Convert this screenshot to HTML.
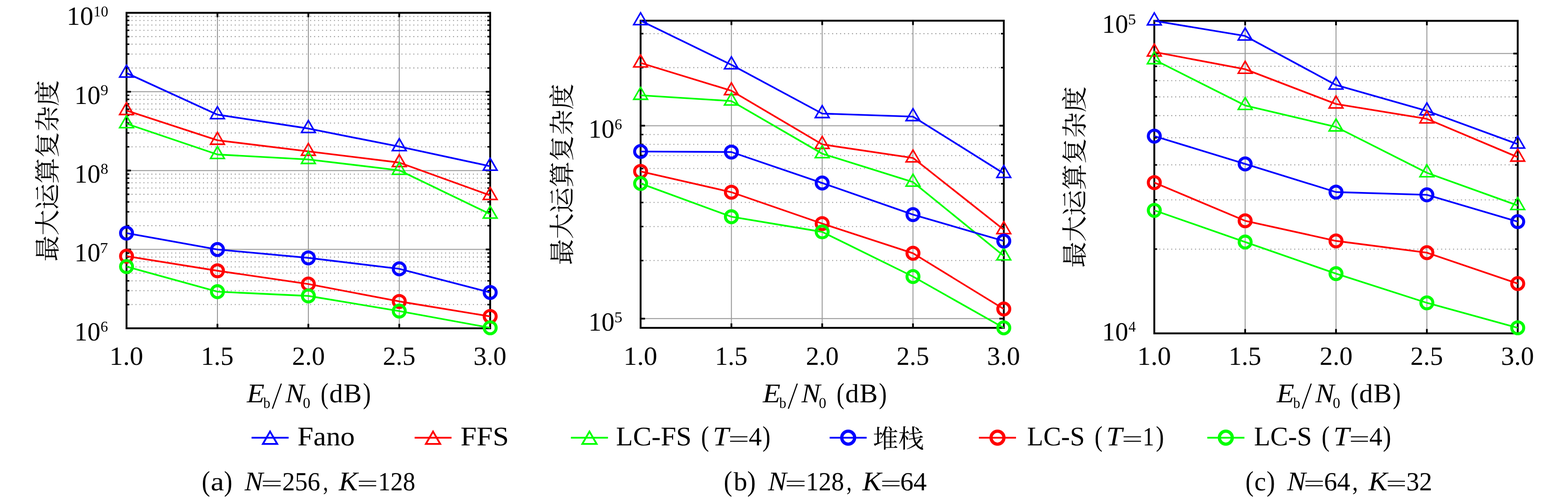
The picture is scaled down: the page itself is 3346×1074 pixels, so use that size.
<!DOCTYPE html>
<html lang="zh"><head><meta charset="utf-8"><title>Maximum computational complexity vs Eb/N0</title>
<style>html,body{margin:0;padding:0;background:#fff}svg{display:block}text{font-family:"Liberation Serif",serif;fill:#000;text-rendering:geometricPrecision}.i{font-style:italic}.cjk{font-family:"Liberation Serif","Noto Serif CJK SC",serif}</style></head><body>
<svg width="3346" height="1074" viewBox="0 0 3346 1074" role="img">
<rect width="3346" height="1074" fill="#fff"/>
<g id="chart1">
<path d="M272.23 650.31H1046M272.23 620.65H1046M272.23 599.61H1046M272.23 583.29H1046M272.23 569.96H1046M272.23 558.69H1046M272.23 548.92H1046M272.23 540.31H1046M272.23 481.91H1046M272.23 452.25H1046M272.23 431.21H1046M272.23 414.89H1046M272.23 401.56H1046M272.23 390.29H1046M272.23 380.52H1046M272.23 371.91H1046M272.23 313.51H1046M272.23 283.85H1046M272.23 262.81H1046M272.23 246.49H1046M272.23 233.16H1046M272.23 221.89H1046M272.23 212.12H1046M272.23 203.51H1046M272.23 145.11H1046M272.23 115.45H1046M272.23 94.41H1046M272.23 78.09H1046M272.23 64.76H1046M272.23 53.49H1046M272.23 43.72H1046M272.23 35.11H1046" fill="none" stroke="#969696" stroke-width="2.1" stroke-dasharray="2.1 6.37"/>
<path d="M464 27.4V701M658 27.4V701M852 27.4V701M270 195.8H1046M270 364.2H1046M270 532.6H1046" fill="none" stroke="#999999" stroke-width="2.0"/>
<path d="M270 650.31h6M1046 650.31h-6M270 620.65h6M1046 620.65h-6M270 599.61h6M1046 599.61h-6M270 583.29h6M1046 583.29h-6M270 569.96h6M1046 569.96h-6M270 558.69h6M1046 558.69h-6M270 548.92h6M1046 548.92h-6M270 540.31h6M1046 540.31h-6M270 481.91h6M1046 481.91h-6M270 452.25h6M1046 452.25h-6M270 431.21h6M1046 431.21h-6M270 414.89h6M1046 414.89h-6M270 401.56h6M1046 401.56h-6M270 390.29h6M1046 390.29h-6M270 380.52h6M1046 380.52h-6M270 371.91h6M1046 371.91h-6M270 313.51h6M1046 313.51h-6M270 283.85h6M1046 283.85h-6M270 262.81h6M1046 262.81h-6M270 246.49h6M1046 246.49h-6M270 233.16h6M1046 233.16h-6M270 221.89h6M1046 221.89h-6M270 212.12h6M1046 212.12h-6M270 203.51h6M1046 203.51h-6M270 145.11h6M1046 145.11h-6M270 115.45h6M1046 115.45h-6M270 94.41h6M1046 94.41h-6M270 78.09h6M1046 78.09h-6M270 64.76h6M1046 64.76h-6M270 53.49h6M1046 53.49h-6M270 43.72h6M1046 43.72h-6M270 35.11h6M1046 35.11h-6" fill="none" stroke="#000" stroke-width="3.2"/>
<path d="M270 195.8h9.4M1046 195.8h-9.4M270 364.2h9.4M1046 364.2h-9.4M270 532.6h9.4M1046 532.6h-9.4M464 27.4v9.4M464 701v-9.4M658 27.4v9.4M658 701v-9.4M852 27.4v9.4M852 701v-9.4" fill="none" stroke="#000" stroke-width="3.8"/>
<rect x="270" y="27.4" width="776" height="673.6" fill="none" stroke="#000" stroke-width="4.0"/>
<g stroke="#0000ff" fill="none"><polyline points="270,156 464,244.8 658,274.4 852,313.1 1046,354.9" stroke-width="3.6" stroke-linejoin="round"/>
<path d="M270 139L284.72 164.5H255.28ZM464 227.8L478.72 253.3H449.28ZM658 257.4L672.72 282.9H643.28ZM852 296.1L866.72 321.6H837.28ZM1046 337.9L1060.72 363.4H1031.28Z" stroke-width="3.3" stroke-linejoin="miter"/></g>
<g stroke="#ff0000" fill="none"><polyline points="270,236 464,299.5 658,323.2 852,347.1 1046,417.3" stroke-width="3.6" stroke-linejoin="round"/>
<path d="M270 219L284.72 244.5H255.28ZM464 282.5L478.72 308H449.28ZM658 306.2L672.72 331.7H643.28ZM852 330.1L866.72 355.6H837.28ZM1046 400.3L1060.72 425.8H1031.28Z" stroke-width="3.3" stroke-linejoin="miter"/></g>
<g stroke="#00ff00" fill="none"><polyline points="270,264.1 464,329.9 658,340.5 852,363.7 1046,457.2" stroke-width="3.6" stroke-linejoin="round"/>
<path d="M270 247.1L284.72 272.6H255.28ZM464 312.9L478.72 338.4H449.28ZM658 323.5L672.72 349H643.28ZM852 346.7L866.72 372.2H837.28ZM1046 440.2L1060.72 465.7H1031.28Z" stroke-width="3.3" stroke-linejoin="miter"/></g>
<g stroke="#0000ff" fill="none"><polyline points="270,497.7 464,532.7 658,550.6 852,574 1046,624.4" stroke-width="3.6" stroke-linejoin="round"/>
<circle cx="270" cy="497.7" r="12.8" stroke-width="6.3"/><circle cx="464" cy="532.7" r="12.8" stroke-width="6.3"/><circle cx="658" cy="550.6" r="12.8" stroke-width="6.3"/><circle cx="852" cy="574" r="12.8" stroke-width="6.3"/><circle cx="1046" cy="624.4" r="12.8" stroke-width="6.3"/></g>
<g stroke="#ff0000" fill="none"><polyline points="270,547 464,578.1 658,606.5 852,643.6 1046,675.6" stroke-width="3.6" stroke-linejoin="round"/>
<circle cx="270" cy="547" r="12.8" stroke-width="6.3"/><circle cx="464" cy="578.1" r="12.8" stroke-width="6.3"/><circle cx="658" cy="606.5" r="12.8" stroke-width="6.3"/><circle cx="852" cy="643.6" r="12.8" stroke-width="6.3"/><circle cx="1046" cy="675.6" r="12.8" stroke-width="6.3"/></g>
<g stroke="#00ff00" fill="none"><polyline points="270,569.2 464,622.8 658,631.9 852,664.2 1046,699.9" stroke-width="3.6" stroke-linejoin="round"/>
<circle cx="270" cy="569.2" r="12.8" stroke-width="6.3"/><circle cx="464" cy="622.8" r="12.8" stroke-width="6.3"/><circle cx="658" cy="631.9" r="12.8" stroke-width="6.3"/><circle cx="852" cy="664.2" r="12.8" stroke-width="6.3"/><circle cx="1046" cy="699.9" r="12.8" stroke-width="6.3"/></g>
<text class="cjk" font-size="55.3" transform="translate(120.8 558.2) rotate(-90)">最大运算复杂度</text>
</g>
<g id="chart2">
<path d="M1369.23 556.31H2142M1369.23 483.77H2142M1369.23 432.31H2142M1369.23 392.39H2142M1369.23 359.78H2142M1369.23 332.2H2142M1369.23 308.32H2142M1369.23 287.25H2142M1369.23 144.41H2142M1369.23 71.87H2142" fill="none" stroke="#969696" stroke-width="2.1" stroke-dasharray="2.1 6.37"/>
<path d="M1560.75 44.2V700M1754.5 44.2V700M1948.25 44.2V700M1367 268.4H2142M1367 680.3H2142" fill="none" stroke="#999999" stroke-width="2.0"/>
<path d="M1367 556.31h6M2142 556.31h-6M1367 483.77h6M2142 483.77h-6M1367 432.31h6M2142 432.31h-6M1367 392.39h6M2142 392.39h-6M1367 359.78h6M2142 359.78h-6M1367 332.2h6M2142 332.2h-6M1367 308.32h6M2142 308.32h-6M1367 287.25h6M2142 287.25h-6M1367 144.41h6M2142 144.41h-6M1367 71.87h6M2142 71.87h-6" fill="none" stroke="#000" stroke-width="3.2"/>
<path d="M1367 268.4h9.4M2142 268.4h-9.4M1367 680.3h9.4M2142 680.3h-9.4M1560.75 44.2v9.4M1560.75 700v-9.4M1754.5 44.2v9.4M1754.5 700v-9.4M1948.25 44.2v9.4M1948.25 700v-9.4" fill="none" stroke="#000" stroke-width="3.8"/>
<rect x="1367" y="44.2" width="775" height="655.8" fill="none" stroke="#000" stroke-width="4.0"/>
<g stroke="#0000ff" fill="none"><polyline points="1367,44.2 1560.75,138.3 1754.5,242.5 1948.25,249 2142,370.4" stroke-width="3.6" stroke-linejoin="round"/>
<path d="M1367 27.2L1381.72 52.7H1352.28ZM1560.75 121.3L1575.47 146.8H1546.03ZM1754.5 225.5L1769.22 251H1739.78ZM1948.25 232L1962.97 257.5H1933.53ZM2142 353.4L2156.72 378.9H2127.28Z" stroke-width="3.3" stroke-linejoin="miter"/></g>
<g stroke="#ff0000" fill="none"><polyline points="1367,134.4 1560.75,193.7 1754.5,308.3 1948.25,337.2 2142,490.3" stroke-width="3.6" stroke-linejoin="round"/>
<path d="M1367 117.4L1381.72 142.9H1352.28ZM1560.75 176.7L1575.47 202.2H1546.03ZM1754.5 291.3L1769.22 316.8H1739.78ZM1948.25 320.2L1962.97 345.7H1933.53ZM2142 473.3L2156.72 498.8H2127.28Z" stroke-width="3.3" stroke-linejoin="miter"/></g>
<g stroke="#00ff00" fill="none"><polyline points="1367,203.5 1560.75,215.7 1754.5,328.1 1948.25,388.8 2142,546.4" stroke-width="3.6" stroke-linejoin="round"/>
<path d="M1367 186.5L1381.72 212H1352.28ZM1560.75 198.7L1575.47 224.2H1546.03ZM1754.5 311.1L1769.22 336.6H1739.78ZM1948.25 371.8L1962.97 397.3H1933.53ZM2142 529.4L2156.72 554.9H2127.28Z" stroke-width="3.3" stroke-linejoin="miter"/></g>
<g stroke="#0000ff" fill="none"><polyline points="1367,323.5 1560.75,324.6 1754.5,390.7 1948.25,458.2 2142,514.6" stroke-width="3.6" stroke-linejoin="round"/>
<circle cx="1367" cy="323.5" r="12.8" stroke-width="6.3"/><circle cx="1560.75" cy="324.6" r="12.8" stroke-width="6.3"/><circle cx="1754.5" cy="390.7" r="12.8" stroke-width="6.3"/><circle cx="1948.25" cy="458.2" r="12.8" stroke-width="6.3"/><circle cx="2142" cy="514.6" r="12.8" stroke-width="6.3"/></g>
<g stroke="#ff0000" fill="none"><polyline points="1367,365.9 1560.75,410.4 1754.5,477.4 1948.25,540.8 2142,659.8" stroke-width="3.6" stroke-linejoin="round"/>
<circle cx="1367" cy="365.9" r="12.8" stroke-width="6.3"/><circle cx="1560.75" cy="410.4" r="12.8" stroke-width="6.3"/><circle cx="1754.5" cy="477.4" r="12.8" stroke-width="6.3"/><circle cx="1948.25" cy="540.8" r="12.8" stroke-width="6.3"/><circle cx="2142" cy="659.8" r="12.8" stroke-width="6.3"/></g>
<g stroke="#00ff00" fill="none"><polyline points="1367,391.8 1560.75,462.8 1754.5,495.1 1948.25,590.5 2142,700" stroke-width="3.6" stroke-linejoin="round"/>
<circle cx="1367" cy="391.8" r="12.8" stroke-width="6.3"/><circle cx="1560.75" cy="462.8" r="12.8" stroke-width="6.3"/><circle cx="1754.5" cy="495.1" r="12.8" stroke-width="6.3"/><circle cx="1948.25" cy="590.5" r="12.8" stroke-width="6.3"/><circle cx="2142" cy="700" r="12.8" stroke-width="6.3"/></g>
<text class="cjk" font-size="55.3" transform="translate(1219.4 565.8) rotate(-90)">最大运算复杂度</text>
</g>
<g id="chart3">
<path d="M2465.43 531.93H3238.7M2465.43 426.72H3238.7M2465.43 352.07H3238.7M2465.43 294.17H3238.7M2465.43 246.85H3238.7M2465.43 206.85H3238.7M2465.43 172.2H3238.7M2465.43 141.64H3238.7" fill="none" stroke="#969696" stroke-width="2.1" stroke-dasharray="2.1 6.37"/>
<path d="M2657.07 44.5V711.8M2850.95 44.5V711.8M3044.82 44.5V711.8M2463.2 114.3H3238.7" fill="none" stroke="#999999" stroke-width="2.0"/>
<path d="M2463.2 531.93h6M3238.7 531.93h-6M2463.2 426.72h6M3238.7 426.72h-6M2463.2 352.07h6M3238.7 352.07h-6M2463.2 294.17h6M3238.7 294.17h-6M2463.2 246.85h6M3238.7 246.85h-6M2463.2 206.85h6M3238.7 206.85h-6M2463.2 172.2h6M3238.7 172.2h-6M2463.2 141.64h6M3238.7 141.64h-6" fill="none" stroke="#000" stroke-width="3.2"/>
<path d="M2463.2 114.3h9.4M3238.7 114.3h-9.4M2657.07 44.5v9.4M2657.07 711.8v-9.4M2850.95 44.5v9.4M2850.95 711.8v-9.4M3044.82 44.5v9.4M3044.82 711.8v-9.4" fill="none" stroke="#000" stroke-width="3.8"/>
<rect x="2463.2" y="44.5" width="775.5" height="667.3" fill="none" stroke="#000" stroke-width="4.0"/>
<g stroke="#0000ff" fill="none"><polyline points="2463.2,44.5 2657.07,76.8 2850.95,181.6 3044.82,236.7 3238.7,307.7" stroke-width="3.6" stroke-linejoin="round"/>
<path d="M2463.2 27.5L2477.92 53H2448.48ZM2657.07 59.8L2671.8 85.3H2642.35ZM2850.95 164.6L2865.67 190.1H2836.23ZM3044.82 219.7L3059.55 245.2H3030.1ZM3238.7 290.7L3253.42 316.2H3223.98Z" stroke-width="3.3" stroke-linejoin="miter"/></g>
<g stroke="#ff0000" fill="none"><polyline points="2463.2,111 2657.07,147.8 2850.95,222 3044.82,253.8 3238.7,335.5" stroke-width="3.6" stroke-linejoin="round"/>
<path d="M2463.2 94L2477.92 119.5H2448.48ZM2657.07 130.8L2671.8 156.3H2642.35ZM2850.95 205L2865.67 230.5H2836.23ZM3044.82 236.8L3059.55 262.3H3030.1ZM3238.7 318.5L3253.42 344H3223.98Z" stroke-width="3.3" stroke-linejoin="miter"/></g>
<g stroke="#00ff00" fill="none"><polyline points="2463.2,127.5 2657.07,225.2 2850.95,271 3044.82,368.9 3238.7,438.8" stroke-width="3.6" stroke-linejoin="round"/>
<path d="M2463.2 110.5L2477.92 136H2448.48ZM2657.07 208.2L2671.8 233.7H2642.35ZM2850.95 254L2865.67 279.5H2836.23ZM3044.82 351.9L3059.55 377.4H3030.1ZM3238.7 421.8L3253.42 447.3H3223.98Z" stroke-width="3.3" stroke-linejoin="miter"/></g>
<g stroke="#0000ff" fill="none"><polyline points="2463.2,290.6 2657.07,350 2850.95,410.1 3044.82,416 3238.7,473.2" stroke-width="3.6" stroke-linejoin="round"/>
<circle cx="2463.2" cy="290.6" r="12.8" stroke-width="6.3"/><circle cx="2657.07" cy="350" r="12.8" stroke-width="6.3"/><circle cx="2850.95" cy="410.1" r="12.8" stroke-width="6.3"/><circle cx="3044.82" cy="416" r="12.8" stroke-width="6.3"/><circle cx="3238.7" cy="473.2" r="12.8" stroke-width="6.3"/></g>
<g stroke="#ff0000" fill="none"><polyline points="2463.2,389.9 2657.07,471.4 2850.95,514.4 3044.82,539.5 3238.7,605.5" stroke-width="3.6" stroke-linejoin="round"/>
<circle cx="2463.2" cy="389.9" r="12.8" stroke-width="6.3"/><circle cx="2657.07" cy="471.4" r="12.8" stroke-width="6.3"/><circle cx="2850.95" cy="514.4" r="12.8" stroke-width="6.3"/><circle cx="3044.82" cy="539.5" r="12.8" stroke-width="6.3"/><circle cx="3238.7" cy="605.5" r="12.8" stroke-width="6.3"/></g>
<g stroke="#00ff00" fill="none"><polyline points="2463.2,449.1 2657.07,516.8 2850.95,584.3 3044.82,646.6 3238.7,699.9" stroke-width="3.6" stroke-linejoin="round"/>
<circle cx="2463.2" cy="449.1" r="12.8" stroke-width="6.3"/><circle cx="2657.07" cy="516.8" r="12.8" stroke-width="6.3"/><circle cx="2850.95" cy="584.3" r="12.8" stroke-width="6.3"/><circle cx="3044.82" cy="646.6" r="12.8" stroke-width="6.3"/><circle cx="3238.7" cy="699.9" r="12.8" stroke-width="6.3"/></g>
<text class="cjk" font-size="55.3" transform="translate(2312.6 571.5) rotate(-90)">最大运算复杂度</text>
</g>
<g id="legend">
<path d="M536.8 934.6H615.9" stroke="#0000ff" stroke-width="3.8" fill="none"/>
<path d="M576.3 921.37L591.65 947.97H560.95Z" stroke="#0000ff" stroke-width="3.8" fill="none"/>
<path d="M884.8 934.6H963.5" stroke="#ff0000" stroke-width="3.8" fill="none"/>
<path d="M924.1 921.37L939.45 947.97H908.75Z" stroke="#ff0000" stroke-width="3.8" fill="none"/>
<path d="M1218.3 934.6H1297.4" stroke="#00ff00" stroke-width="3.8" fill="none"/>
<path d="M1257.9 921.37L1273.25 947.97H1242.55Z" stroke="#00ff00" stroke-width="3.8" fill="none"/>
<path d="M1770.4 934.6H1849.4" stroke="#0000ff" stroke-width="3.8" fill="none"/>
<circle cx="1810" cy="934.5" r="13.8" stroke="#0000ff" stroke-width="6.8" fill="none"/>
<path d="M2088.9 934.6H2168.1" stroke="#ff0000" stroke-width="3.8" fill="none"/>
<circle cx="2128.6" cy="934.5" r="13.8" stroke="#ff0000" stroke-width="6.8" fill="none"/>
<path d="M2576.3 934.6H2655.5" stroke="#00ff00" stroke-width="3.8" fill="none"/>
<circle cx="2615.8" cy="934.5" r="13.8" stroke="#00ff00" stroke-width="6.8" fill="none"/>
<text class="cjk" font-size="54.5" x="1862.4" y="956.1">堆栈</text>
</g>
<g id="labels" style="filter:grayscale(1)">
<text font-size="56" transform="translate(233.59 779.4) scale(1.0301 1.0000)">1.0</text>
<text font-size="56" transform="translate(428.64 779.4) scale(0.9957 1.0000)">1.5</text>
<text font-size="56" transform="translate(623.15 779.4) scale(1.0015 1.0000)">2.0</text>
<text font-size="56" transform="translate(816.96 779.4) scale(0.9925 1.0000)">2.5</text>
<text font-size="56" transform="translate(1010.26 779.4) scale(1.0072 1.0000)">3.0</text>
<text font-size="56" transform="translate(142.24 53.2) scale(1.0185 1.0000)">10</text>
<text font-size="32" transform="translate(199.54 34.6) scale(0.9860 1.0000)">10</text>
<text font-size="56" transform="translate(158.66 221.6) scale(0.9925 1.0000)">10</text>
<text font-size="32" transform="translate(214.46 203) scale(1.0357 1.0000)">9</text>
<text font-size="56" transform="translate(158.66 390) scale(0.9925 1.0000)">10</text>
<text font-size="32" transform="translate(214.46 371.4) scale(1.0357 1.0000)">8</text>
<text font-size="56" transform="translate(158.66 558.4) scale(0.9925 1.0000)">10</text>
<text font-size="32" transform="translate(213.35 539.8) scale(1.0741 1.0000)">7</text>
<text font-size="56" transform="translate(158.66 726.8) scale(0.9925 1.0000)">10</text>
<text font-size="32" transform="translate(214.5 708.2)">6</text>
<text class="i" font-size="56" transform="translate(526.66 858.6) scale(1.1000 1.0270)">E</text>
<text font-size="32" transform="translate(561.8 870.8) scale(0.9467 1.0000)">b</text>
<text font-size="56" transform="translate(580.04 871.54) skewX(-6.550) scale(1 1.4364)">/</text>
<text class="i" font-size="56" transform="translate(609.34 858.6) scale(1.0772 1.0270)">N</text>
<text font-size="32" transform="translate(646.2 870.6)">0</text>
<text font-size="56" transform="translate(684.24 861.36) scale(0.8889 1.1138)">(</text>
<text font-size="56" transform="translate(702.68 858.6) scale(1.0400 1.0000)">d</text>
<text font-size="56" transform="translate(733.29 858.6) scale(1.0344 1.0270)">B</text>
<text font-size="56" transform="translate(774.52 861.36) scale(0.9008 1.1138)">)</text>
<text font-size="56" transform="translate(1330.59 779.4) scale(1.0301 1.0000)">1.0</text>
<text font-size="56" transform="translate(1525.39 779.4) scale(0.9957 1.0000)">1.5</text>
<text font-size="56" transform="translate(1719.65 779.4) scale(1.0015 1.0000)">2.0</text>
<text font-size="56" transform="translate(1913.21 779.4) scale(0.9925 1.0000)">2.5</text>
<text font-size="56" transform="translate(2106.26 779.4) scale(1.0072 1.0000)">3.0</text>
<text font-size="56" transform="translate(1255.66 294.2) scale(0.9925 1.0000)">10</text>
<text font-size="32" transform="translate(1311.5 275.6)">6</text>
<text font-size="56" transform="translate(1255.66 706.1) scale(0.9925 1.0000)">10</text>
<text font-size="32" transform="translate(1310.89 687.5) scale(1.0741 1.0000)">5</text>
<text class="i" font-size="56" transform="translate(1627.66 858.6) scale(1.1000 1.0270)">E</text>
<text font-size="32" transform="translate(1662.8 870.8) scale(0.9467 1.0000)">b</text>
<text font-size="56" transform="translate(1681.04 871.54) skewX(-6.550) scale(1 1.4364)">/</text>
<text class="i" font-size="56" transform="translate(1710.34 858.6) scale(1.0772 1.0270)">N</text>
<text font-size="32" transform="translate(1747.2 870.6)">0</text>
<text font-size="56" transform="translate(1785.24 861.36) scale(0.8889 1.1138)">(</text>
<text font-size="56" transform="translate(1803.68 858.6) scale(1.0400 1.0000)">d</text>
<text font-size="56" transform="translate(1834.29 858.6) scale(1.0344 1.0270)">B</text>
<text font-size="56" transform="translate(1875.52 861.36) scale(0.9008 1.1138)">)</text>
<text font-size="56" transform="translate(2426.79 779.4) scale(1.0301 1.0000)">1.0</text>
<text font-size="56" transform="translate(2621.72 779.4) scale(0.9957 1.0000)">1.5</text>
<text font-size="56" transform="translate(2816.1 779.4) scale(1.0015 1.0000)">2.0</text>
<text font-size="56" transform="translate(3009.79 779.4) scale(0.9925 1.0000)">2.5</text>
<text font-size="56" transform="translate(3202.96 779.4) scale(1.0072 1.0000)">3.0</text>
<text font-size="56" transform="translate(2351.86 70.3) scale(0.9925 1.0000)">10</text>
<text font-size="32" transform="translate(2407.09 51.7) scale(1.0741 1.0000)">5</text>
<text font-size="56" transform="translate(2351.86 726.8) scale(0.9925 1.0000)">10</text>
<text font-size="32" transform="translate(2408.22 708.2) scale(0.9667 1.0000)">4</text>
<text class="i" font-size="56" transform="translate(2724.36 858.6) scale(1.1000 1.0270)">E</text>
<text font-size="32" transform="translate(2759.5 870.8) scale(0.9467 1.0000)">b</text>
<text font-size="56" transform="translate(2777.74 871.54) skewX(-6.550) scale(1 1.4364)">/</text>
<text class="i" font-size="56" transform="translate(2807.04 858.6) scale(1.0772 1.0270)">N</text>
<text font-size="32" transform="translate(2843.9 870.6)">0</text>
<text font-size="56" transform="translate(2881.94 861.36) scale(0.8889 1.1138)">(</text>
<text font-size="56" transform="translate(2900.38 858.6) scale(1.0400 1.0000)">d</text>
<text font-size="56" transform="translate(2930.99 858.6) scale(1.0344 1.0270)">B</text>
<text font-size="56" transform="translate(2972.22 861.36) scale(0.9008 1.1138)">)</text>
<text font-size="56" transform="translate(634.84 950.8) scale(1.0926 1.0270)">Fano</text>
<text font-size="56" transform="translate(982.63 950.8) scale(1.1039 1.0270)">FFS</text>
<text font-size="56" transform="translate(1314.58 950.8) scale(1.0567 1.0270)">LC-FS</text>
<text font-size="56" transform="translate(1496.1 951.54) scale(0.9143 1.0906)">(</text>
<text class="i" font-size="56" transform="translate(1521.27 950.8) scale(1.0952 1.0270)">T</text>
<text font-size="56" transform="translate(1553.97 952.66) scale(1.4210 0.8403)">=</text>
<text font-size="56" transform="translate(1597.83 950.8) scale(0.9943 1.0000)">4</text>
<text font-size="56" transform="translate(1626.9 951.54) scale(0.9143 1.0906)">)</text>
<text font-size="56" transform="translate(2191.81 950.8) scale(1.0125 1.0270)">LC-S</text>
<text font-size="56" transform="translate(2335.71 951.54) scale(0.9079 1.0906)">(</text>
<text class="i" font-size="56" transform="translate(2360.77 950.8) scale(1.0952 1.0270)">T</text>
<text font-size="56" transform="translate(2393.87 952.66) scale(1.4210 0.8403)">=</text>
<text font-size="56" transform="translate(2438.49 950.8) scale(0.8714 1.0000)">1</text>
<text font-size="56" transform="translate(2466.46 951.54) scale(0.9345 1.0906)">)</text>
<text font-size="56" transform="translate(2676.11 950.8) scale(1.0159 1.0270)">LC-S</text>
<text font-size="56" transform="translate(2820.3 951.54) scale(0.9143 1.0906)">(</text>
<text class="i" font-size="56" transform="translate(2845.47 950.8) scale(1.0952 1.0270)">T</text>
<text font-size="56" transform="translate(2878.83 952.66) scale(1.3981 0.8403)">=</text>
<text font-size="56" transform="translate(2922.03 950.8) scale(0.9943 1.0000)">4</text>
<text font-size="56" transform="translate(2951.05 951.54) scale(0.9412 1.0906)">)</text>
<text font-size="56" transform="translate(430.62 1047.81) scale(0.9587 1.0847)">(</text>
<text font-size="56" transform="translate(449.48 1046.5) scale(1.1516 1.0000)">a</text>
<text font-size="56" transform="translate(478.03 1047.81) scale(0.9546 1.0847)">)</text>
<text class="i" font-size="56" transform="translate(522.02 1046.5) scale(1.0553 1.0270)">N</text>
<text font-size="56" transform="translate(556.67 1048.36) scale(1.4590 0.8403)">=</text>
<text font-size="56" transform="translate(602.21 1046.5) scale(0.9671 1.0000)">256</text>
<text font-size="56" transform="translate(689.3 1046.5) scale(0.8000 1.0000)">,</text>
<text class="i" font-size="56" transform="translate(722.94 1046.5) scale(1.0796 1.0270)">K</text>
<text font-size="56" transform="translate(761.67 1048.36) scale(1.4210 0.8403)">=</text>
<text font-size="56" transform="translate(806.66 1046.5) scale(0.9464 1.0000)">128</text>
<text font-size="56" transform="translate(1544.51 1047.81) scale(0.9651 1.0847)">(</text>
<text font-size="56" transform="translate(1565.4 1046.5) scale(1.0400 1.0000)">b</text>
<text font-size="56" transform="translate(1594.59 1047.81) scale(0.9748 1.0847)">)</text>
<text class="i" font-size="56" transform="translate(1639.02 1046.5) scale(1.0553 1.0270)">N</text>
<text font-size="56" transform="translate(1674.67 1048.36) scale(1.4590 0.8403)">=</text>
<text font-size="56" transform="translate(1719.65 1046.5) scale(0.9721 1.0000)">128</text>
<text font-size="56" transform="translate(1806.18 1046.5) scale(0.8114 1.0000)">,</text>
<text class="i" font-size="56" transform="translate(1840.44 1046.5) scale(1.0796 1.0270)">K</text>
<text font-size="56" transform="translate(1878.56 1048.36) scale(1.4248 0.8403)">=</text>
<text font-size="56" transform="translate(1920.93 1046.5) scale(1.0098 1.0000)">64</text>
<text font-size="56" transform="translate(2657.77 1047.81) scale(0.9333 1.0847)">(</text>
<text font-size="56" transform="translate(2676.76 1046.5) scale(0.9966 1.0000)">c</text>
<text font-size="56" transform="translate(2702.69 1047.81) scale(0.9748 1.0847)">)</text>
<text class="i" font-size="56" transform="translate(2746.54 1046.5) scale(1.0699 1.0270)">N</text>
<text font-size="56" transform="translate(2781.76 1048.36) scale(1.4248 0.8403)">=</text>
<text font-size="56" transform="translate(2825.15 1046.5) scale(1.0023 1.0000)">64</text>
<text font-size="56" transform="translate(2885.54 1046.5) scale(0.8914 1.0000)">,</text>
<text class="i" font-size="56" transform="translate(2920.34 1046.5) scale(1.0796 1.0270)">K</text>
<text font-size="56" transform="translate(2957.42 1048.36) scale(1.4019 0.8403)">=</text>
<text font-size="56" transform="translate(3000.91 1046.5) scale(0.9872 1.0000)">32</text>
</g>
</svg></body></html>
